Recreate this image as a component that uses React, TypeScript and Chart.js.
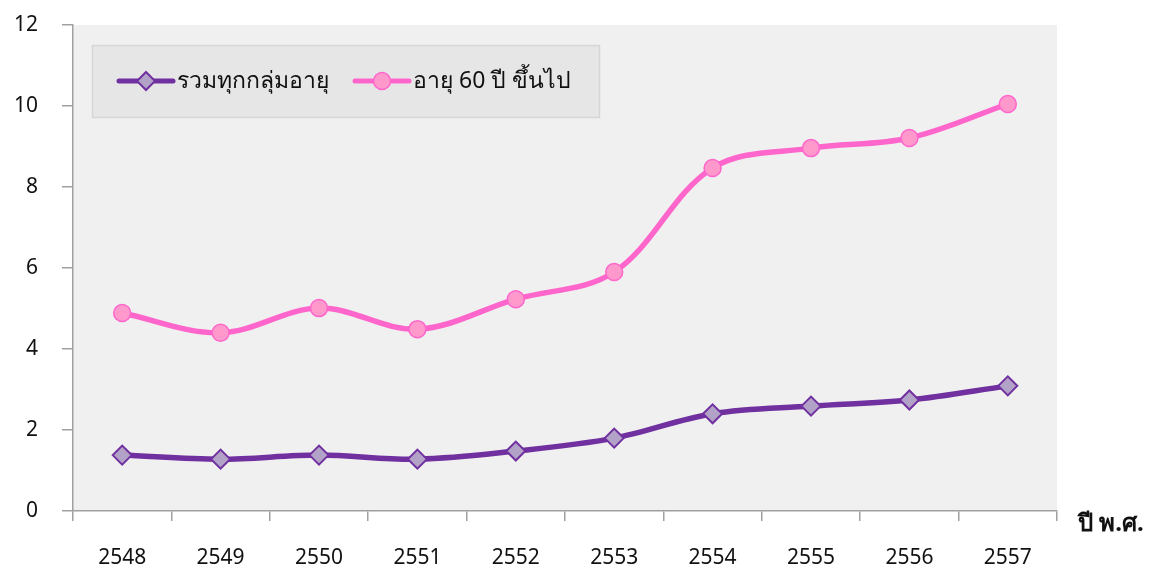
import React, { useEffect, useRef } from "react";
import { Chart, registerables } from "chart.js";

Chart.register(...registerables);

const years = ["2548", "2549", "2550", "2551", "2552", "2553", "2554", "2555", "2556", "2557"];
const allAges = [1.38, 1.28, 1.38, 1.28, 1.48, 1.8, 2.4, 2.59, 2.74, 3.09];
const age60Plus = [4.89, 4.4, 5.01, 4.49, 5.23, 5.9, 8.47, 8.96, 9.21, 10.05];
const seriesNames = ["รวมทุกกลุ่มอายุ", "อายุ 60 ปี ขึ้นไป"];
const xAxisTitle = "ปี พ.ศ.";
const FONT = "'Noto Sans', 'DejaVu Sans', sans-serif";

const PURPLE = "#7030a0";
const PURPLE_FILL = "#b3a2c7";
const PINK = "#ff66cc";
const PINK_FILL = "#ff99cc";

const bgPlugin = {
  id: "plotBg",
  beforeDraw(chart: any) {
    const { ctx, chartArea } = chart;
    ctx.save();
    ctx.fillStyle = "#f0f0f0";
    ctx.fillRect(chartArea.left, chartArea.top, chartArea.right - chartArea.left, chartArea.bottom - chartArea.top);
    ctx.restore();
  },
};

const legendPlugin = {
  id: "insideLegend",
  afterDraw(chart: any) {
    const { ctx, chartArea } = chart;
    ctx.save();
    const bx = chartArea.left + 19;
    const by = chartArea.top + 20;
    const bw = 508;
    const bh = 73;
    ctx.fillStyle = "#e6e6e6";
    ctx.fillRect(bx, by, bw, bh);
    ctx.strokeStyle = "#d6d6d6";
    ctx.lineWidth = 1.5;
    ctx.strokeRect(bx + 0.5, by + 0.5, bw - 1, bh - 1);
    const cy = by + 36;
    const items = [
      { x: bx + 27, color: PURPLE, fill: PURPLE_FILL, style: "diamond", text: seriesNames[0] },
      { x: bx + 263, color: PINK, fill: PINK_FILL, style: "circle", text: seriesNames[1] },
    ];
    for (const it of items) {
      ctx.strokeStyle = it.color;
      ctx.lineWidth = 5;
      ctx.lineCap = "round";
      ctx.beginPath();
      ctx.moveTo(it.x, cy);
      ctx.lineTo(it.x + 54, cy);
      ctx.stroke();
      const mx = it.x + 27;
      ctx.fillStyle = it.fill;
      ctx.beginPath();
      if (it.style === "diamond") {
        ctx.moveTo(mx, cy - 9);
        ctx.lineTo(mx + 9, cy);
        ctx.lineTo(mx, cy + 9);
        ctx.lineTo(mx - 9, cy);
        ctx.closePath();
        ctx.fill();
        ctx.lineWidth = 2;
        ctx.strokeStyle = it.color;
        ctx.lineCap = "butt";
        ctx.stroke();
      } else {
        ctx.arc(mx, cy, 8.5, 0, Math.PI * 2);
        ctx.fill();
        ctx.lineWidth = 1.5;
        ctx.strokeStyle = it.color;
        ctx.stroke();
      }
      ctx.fillStyle = "#111";
      ctx.font = `23px ${FONT}`;
      ctx.textBaseline = "middle";
      ctx.textAlign = "left";
      ctx.fillText(it.text, it.x + 58, cy);
    }
    // x axis title
    ctx.fillStyle = "#111";
    ctx.font = `bold 24px ${FONT}`;
    ctx.textBaseline = "middle";
    ctx.textAlign = "left";
    ctx.fillText(xAxisTitle, chartArea.right + 21, chartArea.bottom + 13);
    ctx.restore();
  },
};

export default function App() {
  const ref = useRef<HTMLCanvasElement>(null);
  useEffect(() => {
    if (!ref.current) return;
    const chart = new Chart(ref.current, {
      type: "line",
      data: {
        labels: years,
        datasets: [
          {
            label: seriesNames[0],
            data: allAges,
            borderColor: PURPLE,
            backgroundColor: PURPLE_FILL,
            borderWidth: 5.5,
            tension: 0.35,
            pointStyle: "rectRot",
            pointRadius: 9.5,
            pointBackgroundColor: PURPLE_FILL,
            pointBorderColor: PURPLE,
            pointBorderWidth: 2,
          },
          {
            label: seriesNames[1],
            data: age60Plus,
            borderColor: PINK,
            backgroundColor: PINK_FILL,
            borderWidth: 5.5,
            tension: 0.35,
            pointStyle: "circle",
            pointRadius: 8.5,
            pointBackgroundColor: PINK_FILL,
            pointBorderColor: PINK,
            pointBorderWidth: 1.5,
          },
        ],
      },
      options: {
        responsive: false,
        animation: false,
        layout: { padding: { left: 0, right: 101, top: 25, bottom: 0 } },
        plugins: { legend: { display: false }, tooltip: { enabled: false } },
        scales: {
          x: {
            offset: true,
            grid: {
              offset: true,
              drawOnChartArea: false,
              drawTicks: true,
              tickLength: 10,
              color: "#a0a0a0",
              lineWidth: 1.5,
            },
            border: { color: "#a0a0a0", width: 1.5 },
            ticks: { color: "#111", font: { family: FONT, size: 21 }, padding: 24, maxRotation: 0 },
            afterFit(scale: any) {
              scale.height = 61;
              scale.paddingLeft = 0;
              scale.paddingRight = 0;
            },
          },
          y: {
            min: 0,
            max: 12,
            ticks: { stepSize: 2, color: "#111", font: { family: FONT, size: 21 }, padding: 24 },
            grid: {
              drawOnChartArea: false,
              drawTicks: true,
              tickLength: 11,
              color: "#a0a0a0",
              lineWidth: 1.5,
            },
            border: { color: "#a0a0a0", width: 1.5 },
            afterFit(scale: any) {
              scale.width = 73;
              scale.paddingTop = 0;
              scale.paddingBottom = 0;
            },
          },
        },
      },
      plugins: [bgPlugin, legendPlugin],
    });
    return () => chart.destroy();
  }, []);
  return (
    <div style={{ position: "fixed", left: 0, top: 0, width: 1158, height: 572, background: "#fff" }}>
      <canvas ref={ref} width={1158} height={572} style={{ display: "block" }} />
    </div>
  );
}
